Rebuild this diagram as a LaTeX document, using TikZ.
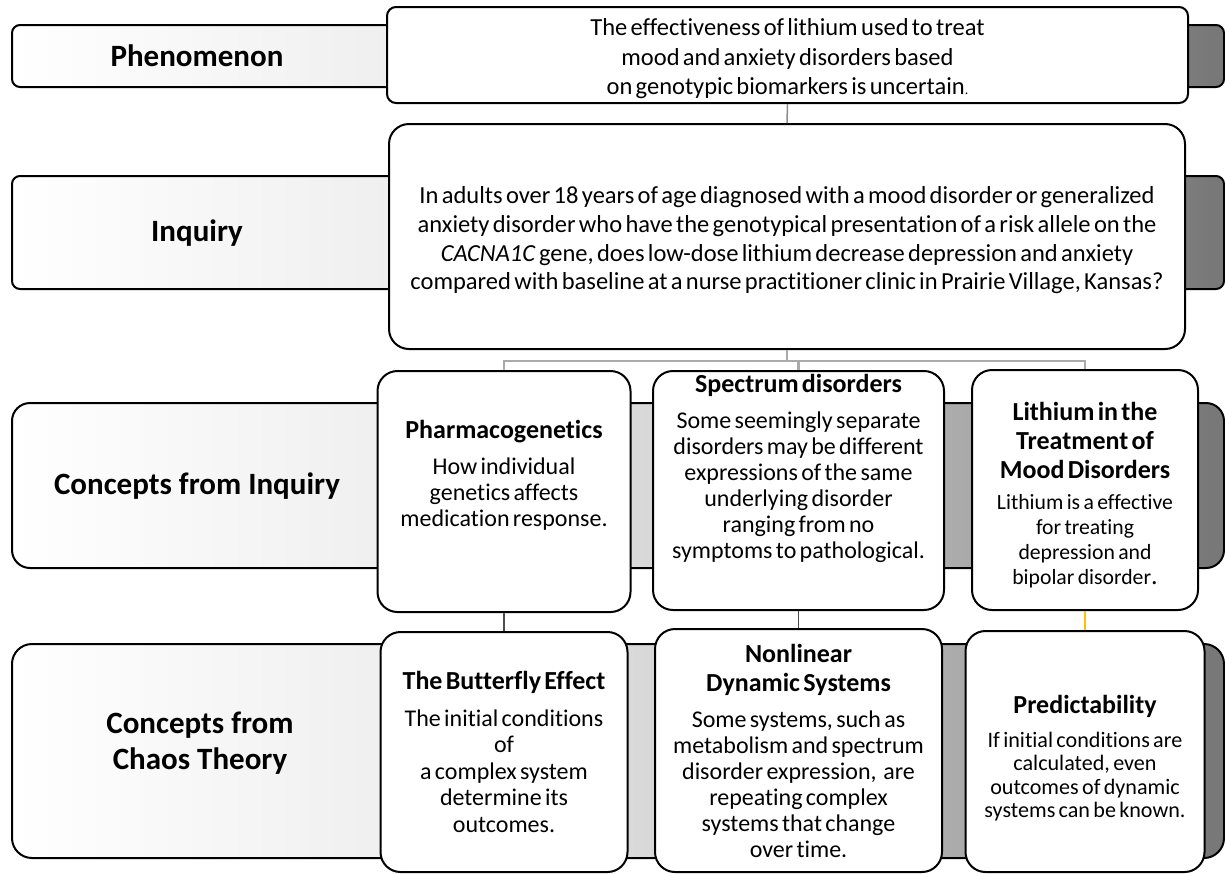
\documentclass[tikz,border=0pt]{standalone}
\usepackage{fontspec}
\setmainfont{Carlito}[Ligatures = NoCommon]
\usetikzlibrary{shapes}

\pgfdeclarehorizontalshading{bandshade}{100bp}{color(0bp)=(white); color(25bp)=(white); color(40bp)=(black!6); color(51bp)=(black!15); color(64bp)=(black!33); color(74.5bp)=(black!53); color(100bp)=(black!53)}
\definecolor{linkgray}{RGB}{140,140,140}
\definecolor{treegray}{RGB}{170,170,170}
\definecolor{linkgold}{RGB}{255,192,0}

\newcommand{\boxhead}{\fontsize{26}{29}\selectfont\bfseries}
\newcommand{\boxbody}{\fontsize{24}{26}\selectfont}
\newcommand{\boxsmall}{\fontsize{21.7}{25}\selectfont}
% extra space under the text of a box (negative: text moves down)
\newcommand{\boxpad}[1]{\par\nointerlineskip\vspace{#1}\hbox{}}

\begin{document}
\begin{tikzpicture}[x = 1pt, y = -1pt]
	\tikzstyle{bandStyle} = [draw, line width = 2pt, shading = bandshade]
	\tikzstyle{labelStyle} = [align = center, font = \fontsize{31}{36}\selectfont\bfseries]
	\tikzstyle{boxStyle} = [draw, fill = white, line width = 2pt, rounded corners = 20pt, align = center, inner sep = 0pt]
	\tikzstyle{linkStyle} = [draw = linkgray, line width = 1.5pt]
	\tikzstyle{treeStyle} = [draw = treegray, line width = 2.5pt]
	\useasboundingbox (0,0) rectangle (1225,873);
	% bands
	\draw[bandStyle, rounded corners = 8pt] (12,25) rectangle (1224,87);
	\draw[bandStyle, rounded corners = 8pt] (12,176) rectangle (1224,289);
	\draw[bandStyle, rounded corners = 18pt] (12,403) rectangle (1224,568);
	\draw[bandStyle, rounded corners = 20pt] (12,644) rectangle (1224,858);
	\node[labelStyle] (l0) at (197,56) {Phenomenon};
	\node[labelStyle] (l1) at (197,233) {Inquiry};
	\node[labelStyle] (l2) at (197,486) {Concepts from Inquiry};
	\node[labelStyle] (l3) at (200,743) {Concepts from\\Chaos Theory};
	% boxes
	\node[boxStyle, rounded corners = 9pt, minimum width = 801pt, minimum height = 96pt, text width = 780pt] (v0) at (787.5,55)
		{\fontsize{24.5}{29.5}\selectfont The effectiveness of lithium used to treat\\mood and anxiety disorders based\\on genotypic biomarkers is uncertain{\fontsize{14}{14}\selectfont .}\boxpad{-8pt}};
	\node[boxStyle, minimum width = 796pt, minimum height = 225pt, text width = 780pt] (v1) at (787,236.5)
		{\fontsize{24.5}{28.7}\selectfont In adults over 18 years of age diagnosed with a mood disorder or generalized\\anxiety disorder who have the genotypical presentation of a risk allele on the\\\textit{CACNA1C} gene, does low-dose lithium decrease depression and anxiety\\compared with baseline at a nurse practitioner clinic in Prairie Village, Kansas?\boxpad{-8pt}};
	\node[boxStyle, minimum width = 253pt, minimum height = 241pt, text width = 240pt] (v2) at (504,491.5)
		{{\boxhead Pharmacogenetics\par}\vspace{10pt}{\boxbody How individual\\genetics affects\\medication response.\par}\boxpad{32pt}};
	\node[boxStyle, minimum width = 291pt, minimum height = 239pt, text width = 280pt] (v3) at (798.5,490.5)
		{{\boxhead Spectrum disorders\par}\vspace{10pt}{\boxbody Some seemingly separate\\disorders may be different\\expressions of the same\\underlying disorder\\ranging from no\\symptoms to pathological.\par}\boxpad{44pt}};
	\node[boxStyle, minimum width = 226pt, minimum height = 240pt, text width = 215pt] (v4) at (1085,490)
		{{\boxhead Lithium in the\\Treatment of\\Mood Disorders\par}\vspace{6pt}{\boxsmall Lithium is a effective\\for treating\\depression and\\bipolar disorder{\fontsize{26}{26}\selectfont .}\par}\boxpad{-10pt}};
	\node[boxStyle, minimum width = 247pt, minimum height = 240pt, text width = 235pt] (v5) at (504,752)
		{{\boxhead The Butterfly Effect\par}\vspace{10pt}{\fontsize{24}{26.5}\selectfont The initial conditions\\of\\a complex system\\determine its\\outcomes.\par}};
	\node[boxStyle, minimum width = 287pt, minimum height = 243pt, text width = 275pt] (v6) at (798.5,750.5)
		{{\boxhead Nonlinear\\Dynamic Systems\par}\vspace{10pt}{\boxbody Some systems, such as\\metabolism and spectrum\\disorder expression,\ \ are\\repeating complex\\systems that change\\over time.\par}};
	\node[boxStyle, minimum width = 239pt, minimum height = 241pt, text width = 228pt] (v7) at (1085,751.5)
		{{\boxhead Predictability\par}\vspace{10pt}{\fontsize{22.1}{23.5}\selectfont If initial conditions are\\calculated, even\\outcomes of dynamic\\systems can be known.\par}\boxpad{-14pt}};
	% connectors
	\coordinate (t0) at (787,361);
	\draw[linkStyle] (v0.south) -- (v1.north);
	\draw[treeStyle] (v1.south) -- (t0);
	\draw[treeStyle] (t0) -| (v2.north);
	\draw[treeStyle] (t0) -| (v3.north);
	\draw[treeStyle] (t0) -| (v4.north);
	\draw[linkStyle, draw = black!70] (v2.south) -- (v5.north);
	\draw[linkStyle, draw = black!70] (v3.south) -- (v6.north);
	\draw[linkStyle, draw = linkgold, line width = 2.5pt] (v4.south) -- (v7.north);
\end{tikzpicture}
\end{document}
